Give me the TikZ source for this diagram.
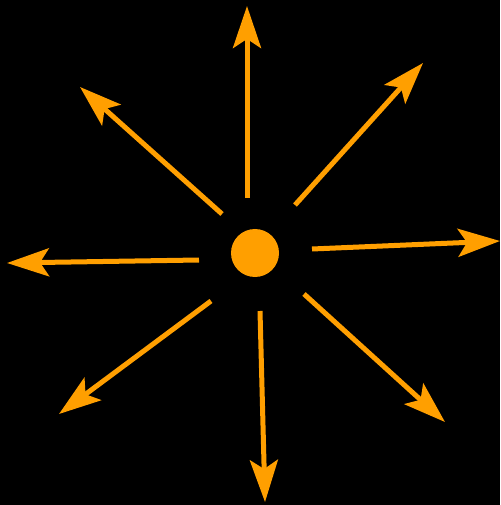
\documentclass[tikz,border=0pt]{standalone}
\usepackage{tikz}
\usetikzlibrary{arrows.meta}

\definecolor{rayorange}{RGB}{255,159,0}

\tikzset{
  ray/.style={draw=rayorange,line width=3.75pt,
    -{Stealth[length=31.5pt,width=21pt,inset=6.75pt]}},
}

\begin{document}
\begin{tikzpicture}[x=0.75pt,y=-0.75pt]
\fill[black] (0,0) rectangle (500,505);
\path[use as bounding box] (0,0) rectangle (500,505);
% source
\node[circle,fill=rayorange,minimum size=36pt,inner sep=0pt] (src) at (255,253) {};
% ray ends
\coordinate (s1) at (247,198); \coordinate (e1) at (247,6);
\coordinate (s2) at (295,205); \coordinate (e2) at (423,63);
\coordinate (s3) at (312,249); \coordinate (e3) at (500,241);
\coordinate (s4) at (304,294); \coordinate (e4) at (445,422);
\coordinate (s5) at (260,311); \coordinate (e5) at (265,502);
\coordinate (s6) at (211,301); \coordinate (e6) at (59,414);
\coordinate (s7) at (199,260); \coordinate (e7) at (7,263);
\coordinate (s8) at (222,214); \coordinate (e8) at (80,87);
\foreach \i in {1,...,8}
  \draw[ray] (s\i) -- (e\i);
\end{tikzpicture}
\end{document}
